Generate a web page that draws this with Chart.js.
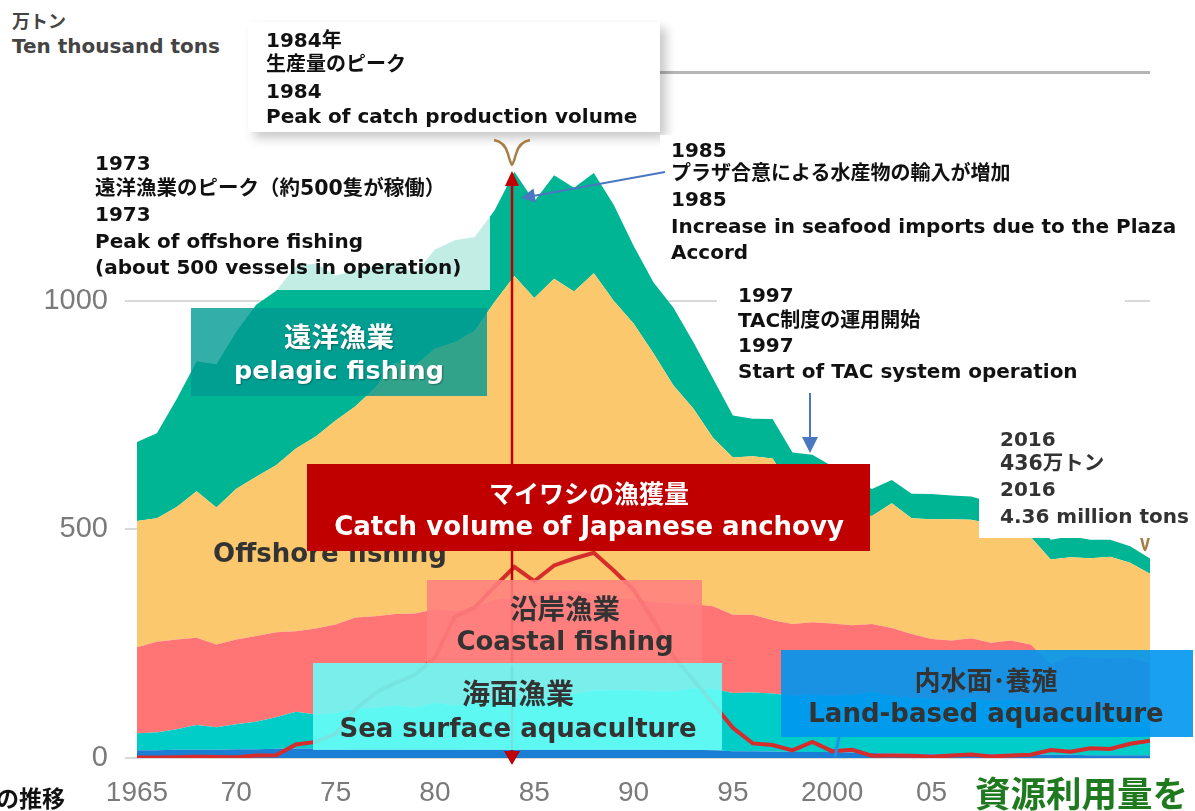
<!DOCTYPE html>
<html><head><meta charset="utf-8">
<script src="https://cdn.jsdelivr.net/npm/chart.js@4.4.1/dist/chart.umd.min.js"></script>
<style>
html,body{margin:0;padding:0;background:#fff;}
#wrap{position:relative;width:1195px;height:811px;overflow:hidden;background:#fff;}
#c{position:absolute;left:0;top:0;}
.abs{position:absolute;}
.t{position:absolute;font-family:"DejaVu Sans","Noto Sans CJK JP",sans-serif;font-weight:bold;white-space:nowrap;}
.j{font-family:"Noto Sans CJK JP",sans-serif;font-weight:bold;}
.ctr{transform:translateX(-50%);}
svg{position:absolute;left:0;top:0;overflow:visible;}
</style></head>
<body><div id="wrap">
<canvas id="c" width="1195" height="811"></canvas>
</div>
<script>
// ---- data (万トン) ----
const years = [];
for (let y = 1965; y <= 2016; y++) years.push(y);
const inland = [17,17,18,18,18,19,19,20,21,21, 21,22,22,22,22,22,22,21,21,20, 20,20,20,20,21,21,20,19,18,17, 15,15,14,13,13,13,12,11,10,9, 8,8,8,8,8,8,7,7,6,6, 6,6];
const seaAquaculture = [37,39,45,54,49,55,60,69,80,74, 77,86,88,92,88,99,92,99,109,111, 109,116,120,127,127,127,126,127,134,134, 127,128,127,123,125,123,126,133,125,122, 121,118,125,115,120,111,87,104,100,99, 107,103];
const coastal = [188,198,196,191,181,185,188,186,176,188, 194,199,200,201,206,204,207,210,216,219, 227,227,227,210,202,199,195,192,185,181, 171,170,160,157,159,158,152,149,149,140, 131,131,129,129,129,129,111,112,113,113, 106,99];
const offshore = [276,270,290,320,300,330,348,365,400,420, 446,462,500,549,543,570,588,604,651,704, 650,685,653,703,650,603,544,477,428,368, 344,347,354,294,283,258,248,236,273,253, 262,265,259,260,238,235,229,216,218,222, 208,195];
const pelagic = [173,186,236,284,313,343,376,381,399,378, 317,297,266,219,200,217,223,205,200,228, 211,226,227,219,210,170,155,170,145,130, 92,82,86,81,83,86,75,59,51,54, 55,52,51,47,48,48,43,46,40,37, 36,33];
const sardine = [0.9,1.3,1.7,2.5,2.2,1.7,5.7,5.8,29.7,35.2, 52.7,106.6,142.0,163.7,181.7,219.8,308.9,329.0,374.5,417.9, 386.6,421.0,436.2,448.8,409.9,367.8,301.0,222.4,171.4,118.9, 66.1,31.9,28.4,16.7,35.1,15.0,17.8,5.0,5.2,5.0, 2.8,5.3,7.9,3.5,5.7,7.0,17.6,13.5,21.5,19.6, 31.1,37.8];
const yTicks = [0, 500, 1000, 1500];
const xTickYears = [1965,1970,1975,1980,1985,1990,1995,2000,2005,2010,2015];
const xTickLabels = ['1965','70','75','80','85','90','95','2000','05','10','15'];

const pts = arr => years.map((y, i) => ({x: y, y: arr[i]}));
const area = (label, arr, color, fill) => ({
  label, data: pts(arr), fill, backgroundColor: color, borderColor: color,
  borderWidth: 0, pointRadius: 0, tension: 0, stack: 'prod'
});

new Chart(document.getElementById('c'), {
  type: 'line',
  data: { datasets: [
    area('内水面漁業・養殖業', inland, '#1a7fd4', 'origin'),
    area('海面養殖業', seaAquaculture, '#00cdc8', '-1'),
    area('沿岸漁業', coastal, '#ff7575', '-1'),
    area('沖合漁業', offshore, '#fbc86e', '-1'),
    area('遠洋漁業', pelagic, '#00b593', '-1'),
    { label: 'マイワシ', data: pts(sardine), fill: false, borderColor: '#d62c2c',
      borderWidth: 4, pointRadius: 0, tension: 0, stack: 'sardine', order: -1 }
  ]},
  options: {
    responsive: false, animation: false, devicePixelRatio: 1,
    layout: { padding: { top: 72, right: 45, left: 0, bottom: 0 } },
    plugins: { legend: { display: false }, tooltip: { enabled: false } },
    scales: {
      x: {
        type: 'linear', min: 1965, max: 2016,
        afterBuildTicks: s => { s.ticks = xTickYears.map(v => ({ value: v })); },
        afterFit: s => { s.height = 53; },
        ticks: { autoSkip: false, maxRotation: 0, padding: 10, color: '#7a7a7a',
          font: { family: 'Liberation Sans', size: 28 },
          callback: v => xTickLabels[xTickYears.indexOf(v)] },
        grid: { display: false }, border: { display: false }
      },
      y: {
        stacked: true, min: 0, max: 1500,
        afterBuildTicks: s => { s.ticks = yTicks.map(v => ({ value: v })); },
        afterFit: s => { s.width = 137; },
        ticks: { padding: 17, color: '#7a7a7a', font: { family: 'Liberation Sans', size: 29 },
          callback: v => String(v) },
        grid: { color: c => c.tick && c.tick.value === 1500 ? '#b5b5b5' : '#d9d9d9',
                lineWidth: c => c.tick && c.tick.value === 1500 ? 3 : 2,
                drawTicks: true, tickLength: 12 },
        border: { display: false }
      }
    }
  }
});

// ---- annotation overlay ----
const wrap = document.getElementById('wrap');
function box(x, y, w, h, style) {
  const d = document.createElement('div');
  d.className = 'abs';
  Object.assign(d.style, { left: x + 'px', top: y + 'px', width: w + 'px', height: h + 'px' }, style || {});
  wrap.appendChild(d); return d;
}
function txt(s, x, cy, size, color, extra) {
  const d = document.createElement('div');
  d.className = 't' + (extra && extra.cls ? ' ' + extra.cls : '');
  const lh = Math.round(size * 1.3);
  d.textContent = s;
  Object.assign(d.style, { left: x + 'px', top: (cy - lh / 2) + 'px', fontSize: size + 'px',
    lineHeight: lh + 'px', color: color }, (extra && extra.style) || {});
  wrap.appendChild(d); return d;
}
function svg(markup) {
  const s = document.createElementNS('http://www.w3.org/2000/svg', 'svg');
  s.setAttribute('width', '1195'); s.setAttribute('height', '811');
  s.innerHTML = markup; wrap.appendChild(s); return s;
}

// unit caption
box(0, 0, 248, 90, { background: '#fff' });
txt('万トン', 12, 20, 18, '#444', { cls: 'j' });
txt('Ten thousand tons', 12, 46, 20, '#444');

// 1973 note (translucent white)
box(85, 145, 405, 145, { background: 'rgba(255,255,255,0.76)' });
txt('1973', 95, 163, 20, '#111');
txt('遠洋漁業のピーク（約500隻が稼働）', 95, 188, 20.5, '#111');
txt('1973', 95, 214, 20, '#111');
txt('Peak of offshore fishing', 95, 241, 20, '#111');
txt('(about 500 vessels in operation)', 95, 267, 20, '#111');

// 1984 note
box(248, 22, 412, 110, { background: '#fff', boxShadow: '6px 6px 10px rgba(0,0,0,0.22)' });
txt('1984年', 266, 40, 20, '#111');
txt('生産量のピーク', 266, 64, 20, '#111');
txt('1984', 266, 91, 20, '#111');
txt('Peak of catch production volume', 266, 116, 20, '#111');

// callout marks
svg('<path d="M494,140 Q505,142 508,154 Q511,165 512,165 Q513,165 516,154 Q519,142 530,140" fill="none" stroke="#a57d45" stroke-width="2.5"/>' +
    '<path d="M1131,528 Q1140,530 1142,540 Q1144,550 1145,550 Q1146,550 1148,540 Q1150,530 1159,528" fill="none" stroke="#a57d45" stroke-width="2.5"/>');

// 1985 note
box(660, 135, 535, 130, { background: '#fff' });
txt('1985', 671, 150, 20, '#111');
txt('プラザ合意による水産物の輸入が増加', 671, 173, 20, '#111');
txt('1985', 671, 199, 20, '#111');
txt('Increase in seafood imports due to the Plaza', 671, 226, 20, '#111');
txt('Accord', 671, 252, 20, '#111');

// 1997 note
box(717, 282, 408, 102, { background: '#fff' });
txt('1997', 738, 295, 20, '#111');
txt('TAC制度の運用開始', 738, 320, 20, '#111');
txt('1997', 738, 345, 20, '#111');
txt('Start of TAC system operation', 738, 371, 20, '#111');

// 2016 note
box(979, 422, 216, 116, { background: '#fff' });
txt('2016', 1000, 439, 20, '#333');
txt('436万トン', 1000, 463, 20.5, '#333');
txt('2016', 1000, 489, 20, '#333');
txt('4.36 million tons', 1000, 516, 20, '#333');

// blue arrows
svg('<line x1="665" y1="172" x2="533" y2="196" stroke="#4a78c0" stroke-width="2"/>' +
    '<polygon points="521,198 536,202.5 533.5,188.5" fill="#4a78c0"/>' +
    '<line x1="810" y1="393" x2="810" y2="440" stroke="#4a78c0" stroke-width="2"/>' +
    '<polygon points="810,453 802,437 818,437" fill="#4a78c0"/>');

// pelagic label box
box(191, 308, 296, 88, { background: 'rgba(0,154,146,0.8)' });
txt('遠洋漁業', 339, 335, 27.5, '#fff', { cls: 'j ctr', style: { textShadow: '1px 1px 2px rgba(0,0,0,0.35)' } });
txt('pelagic fishing', 339, 370, 25.5, '#fff', { cls: 'ctr', style: { textShadow: '1px 1px 2px rgba(0,0,0,0.35)' } });

// offshore label
txt('Offshore fishing', 330, 553, 26, '#333', { cls: 'ctr' });

// red arrow (1984 peak)
svg('<line x1="512" y1="184" x2="512" y2="752" stroke="#c00000" stroke-width="2.5"/>' +
    '<polygon points="512,171 505,186 519,186" fill="#c00000"/>' +
    '<polygon points="512,765 504,751 520,751" fill="#c00000"/>');

// sardine box
box(307, 464, 563, 87, { background: '#c00000' });
txt('マイワシの漁獲量', 589, 492, 25, '#fff', { cls: 'j ctr' });
txt('Catch volume of Japanese anchovy', 589, 526, 26, '#fff', { cls: 'ctr' });

// coastal box
box(427, 580, 275, 85, { background: 'rgba(255,128,128,0.88)' });
txt('沿岸漁業', 565, 607, 27.5, '#333', { cls: 'j ctr' });
txt('Coastal fishing', 565, 641, 26, '#333', { cls: 'ctr' });

// sea surface aquaculture box
box(313, 663, 409, 87, { background: 'rgba(106,253,248,0.89)' });
txt('海面漁業', 518, 692, 28, '#333', { cls: 'j ctr' });
txt('Sea surface aquaculture', 518, 728, 26, '#333', { cls: 'ctr' });

// land-based box
box(781, 650, 412, 87, { background: 'rgba(0,150,240,0.9)' });
svg('<line x1="839" y1="737" x2="835" y2="757" stroke="#1e90e8" stroke-width="3"/>');
txt('内水面･養殖', 986, 679, 26, '#333', { cls: 'j ctr' });
txt('Land-based aquaculture', 986, 713, 26, '#333', { cls: 'ctr' });

// bottom fragments
txt('の推移', -4, 797, 23, '#111', { cls: 'j' });
box(968, 770, 227, 41, { background: '#fff' });
txt('資源利用量を', 975, 792, 35.5, '#1f7a1f', { cls: 'j' });
</script>
</body></html>
